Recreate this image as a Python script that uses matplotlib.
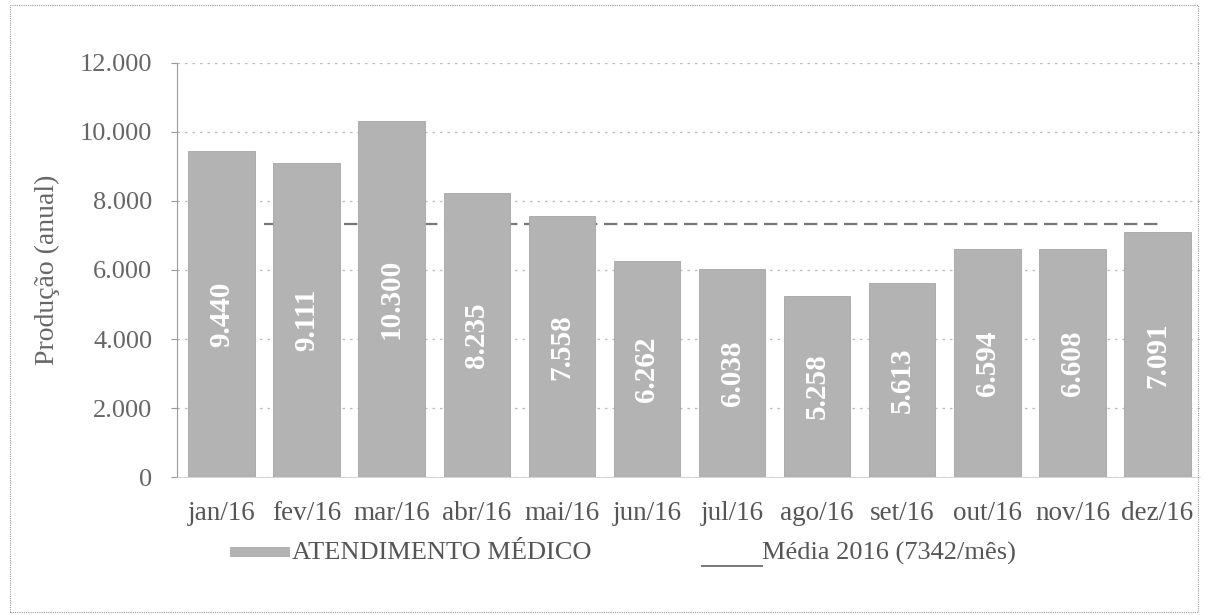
import numpy as np
import matplotlib.pyplot as plt
from matplotlib.patches import Rectangle
from matplotlib.lines import Line2D

meses = ['jan/16', 'fev/16', 'mar/16', 'abr/16', 'mai/16', 'jun/16',
         'jul/16', 'ago/16', 'set/16', 'out/16', 'nov/16', 'dez/16']
atendimentos = [9440, 9111, 10300, 8235, 7558, 6262, 6038, 5258, 5613, 6594, 6608, 7091]
rotulos = ['9.440', '9.111', '10.300', '8.235', '7.558', '6.262',
           '6.038', '5.258', '5.613', '6.594', '6.608', '7.091']
media = 7342
yticks = [0, 2000, 4000, 6000, 8000, 10000, 12000]
ytick_labels = ['0', '2.000', '4.000', '6.000', '8.000', '10.000', '12.000']

plt.rcParams['font.family'] = ['Liberation Serif', 'DejaVu Serif']

fig = plt.figure(figsize=(12.05, 6.15), dpi=100)
ax = fig.add_axes([0.147, 0.224, 0.849, 0.674])

x = np.arange(len(meses))
ax.bar(x, atendimentos, width=0.78, color='#b3b3b3', edgecolor='#a5a5a5', linewidth=0.6, zorder=2)
for xi, v, lab in zip(x, atendimentos, rotulos):
    ax.text(xi, v / 2, lab, rotation=90, ha='center', va='center', color='white',
            fontsize=21, fontweight='bold', zorder=3)

ax.hlines(media, 0.5, 11.05, colors='#777777', linestyles=(0, (6, 3)), linewidth=1.6, zorder=1)

ax.set_xlim(-0.52, 11.5)
ax.set_ylim(0, 12000)
ax.set_yticks(yticks)
ax.set_yticklabels(ytick_labels)
ax.set_xticks(x)
ax.set_xticklabels(meses)
ax.tick_params(axis='y', labelsize=19, colors='#999999', length=4, pad=14)
ax.tick_params(axis='x', labelsize=19.5, colors='#555555', length=0, pad=17)
for t in ax.get_yticklabels():
    t.set_color('#666666')
ax.grid(axis='y', linestyle=(0, (2, 4)), color='#bbbbbb', linewidth=0.9, zorder=0)
for s in ['top', 'right']:
    ax.spines[s].set_visible(False)
ax.spines['left'].set_color('#999999')
ax.spines['left'].set_linestyle((0, (1, 1)))
ax.spines['bottom'].set_color('#cccccc')
ax.spines['bottom'].set_linewidth(0.6)
ax.set_ylabel('Produção (anual)', fontsize=20, color='#666666', labelpad=14)

# legenda manual
fig.patches.append(Rectangle((230 / 1205, 1 - 557 / 615), 60 / 1205, 10 / 615,
                             transform=fig.transFigure, facecolor='#b3b3b3', edgecolor='none'))
fig.text(292 / 1205, 1 - 553 / 615, 'ATENDIMENTO MÉDICO', fontsize=19, color='#555555',
         va='center', ha='left')
fig.lines.append(Line2D([702 / 1205, 762 / 1205], [1 - 566 / 615, 1 - 566 / 615],
                        transform=fig.transFigure, color='#777777', linewidth=1.4))
fig.text(762 / 1205, 1 - 553 / 615, 'Média 2016 (7342/mês)', fontsize=19, color='#555555',
         va='center', ha='left')

# moldura
fig.patches.append(Rectangle((10 / 1205, 3 / 615), 1188 / 1205, 607 / 615, transform=fig.transFigure,
                             fill=False, edgecolor='#999999', linestyle=(0, (1, 1)), linewidth=0.8))

fig.savefig('out.png', dpi=100)
